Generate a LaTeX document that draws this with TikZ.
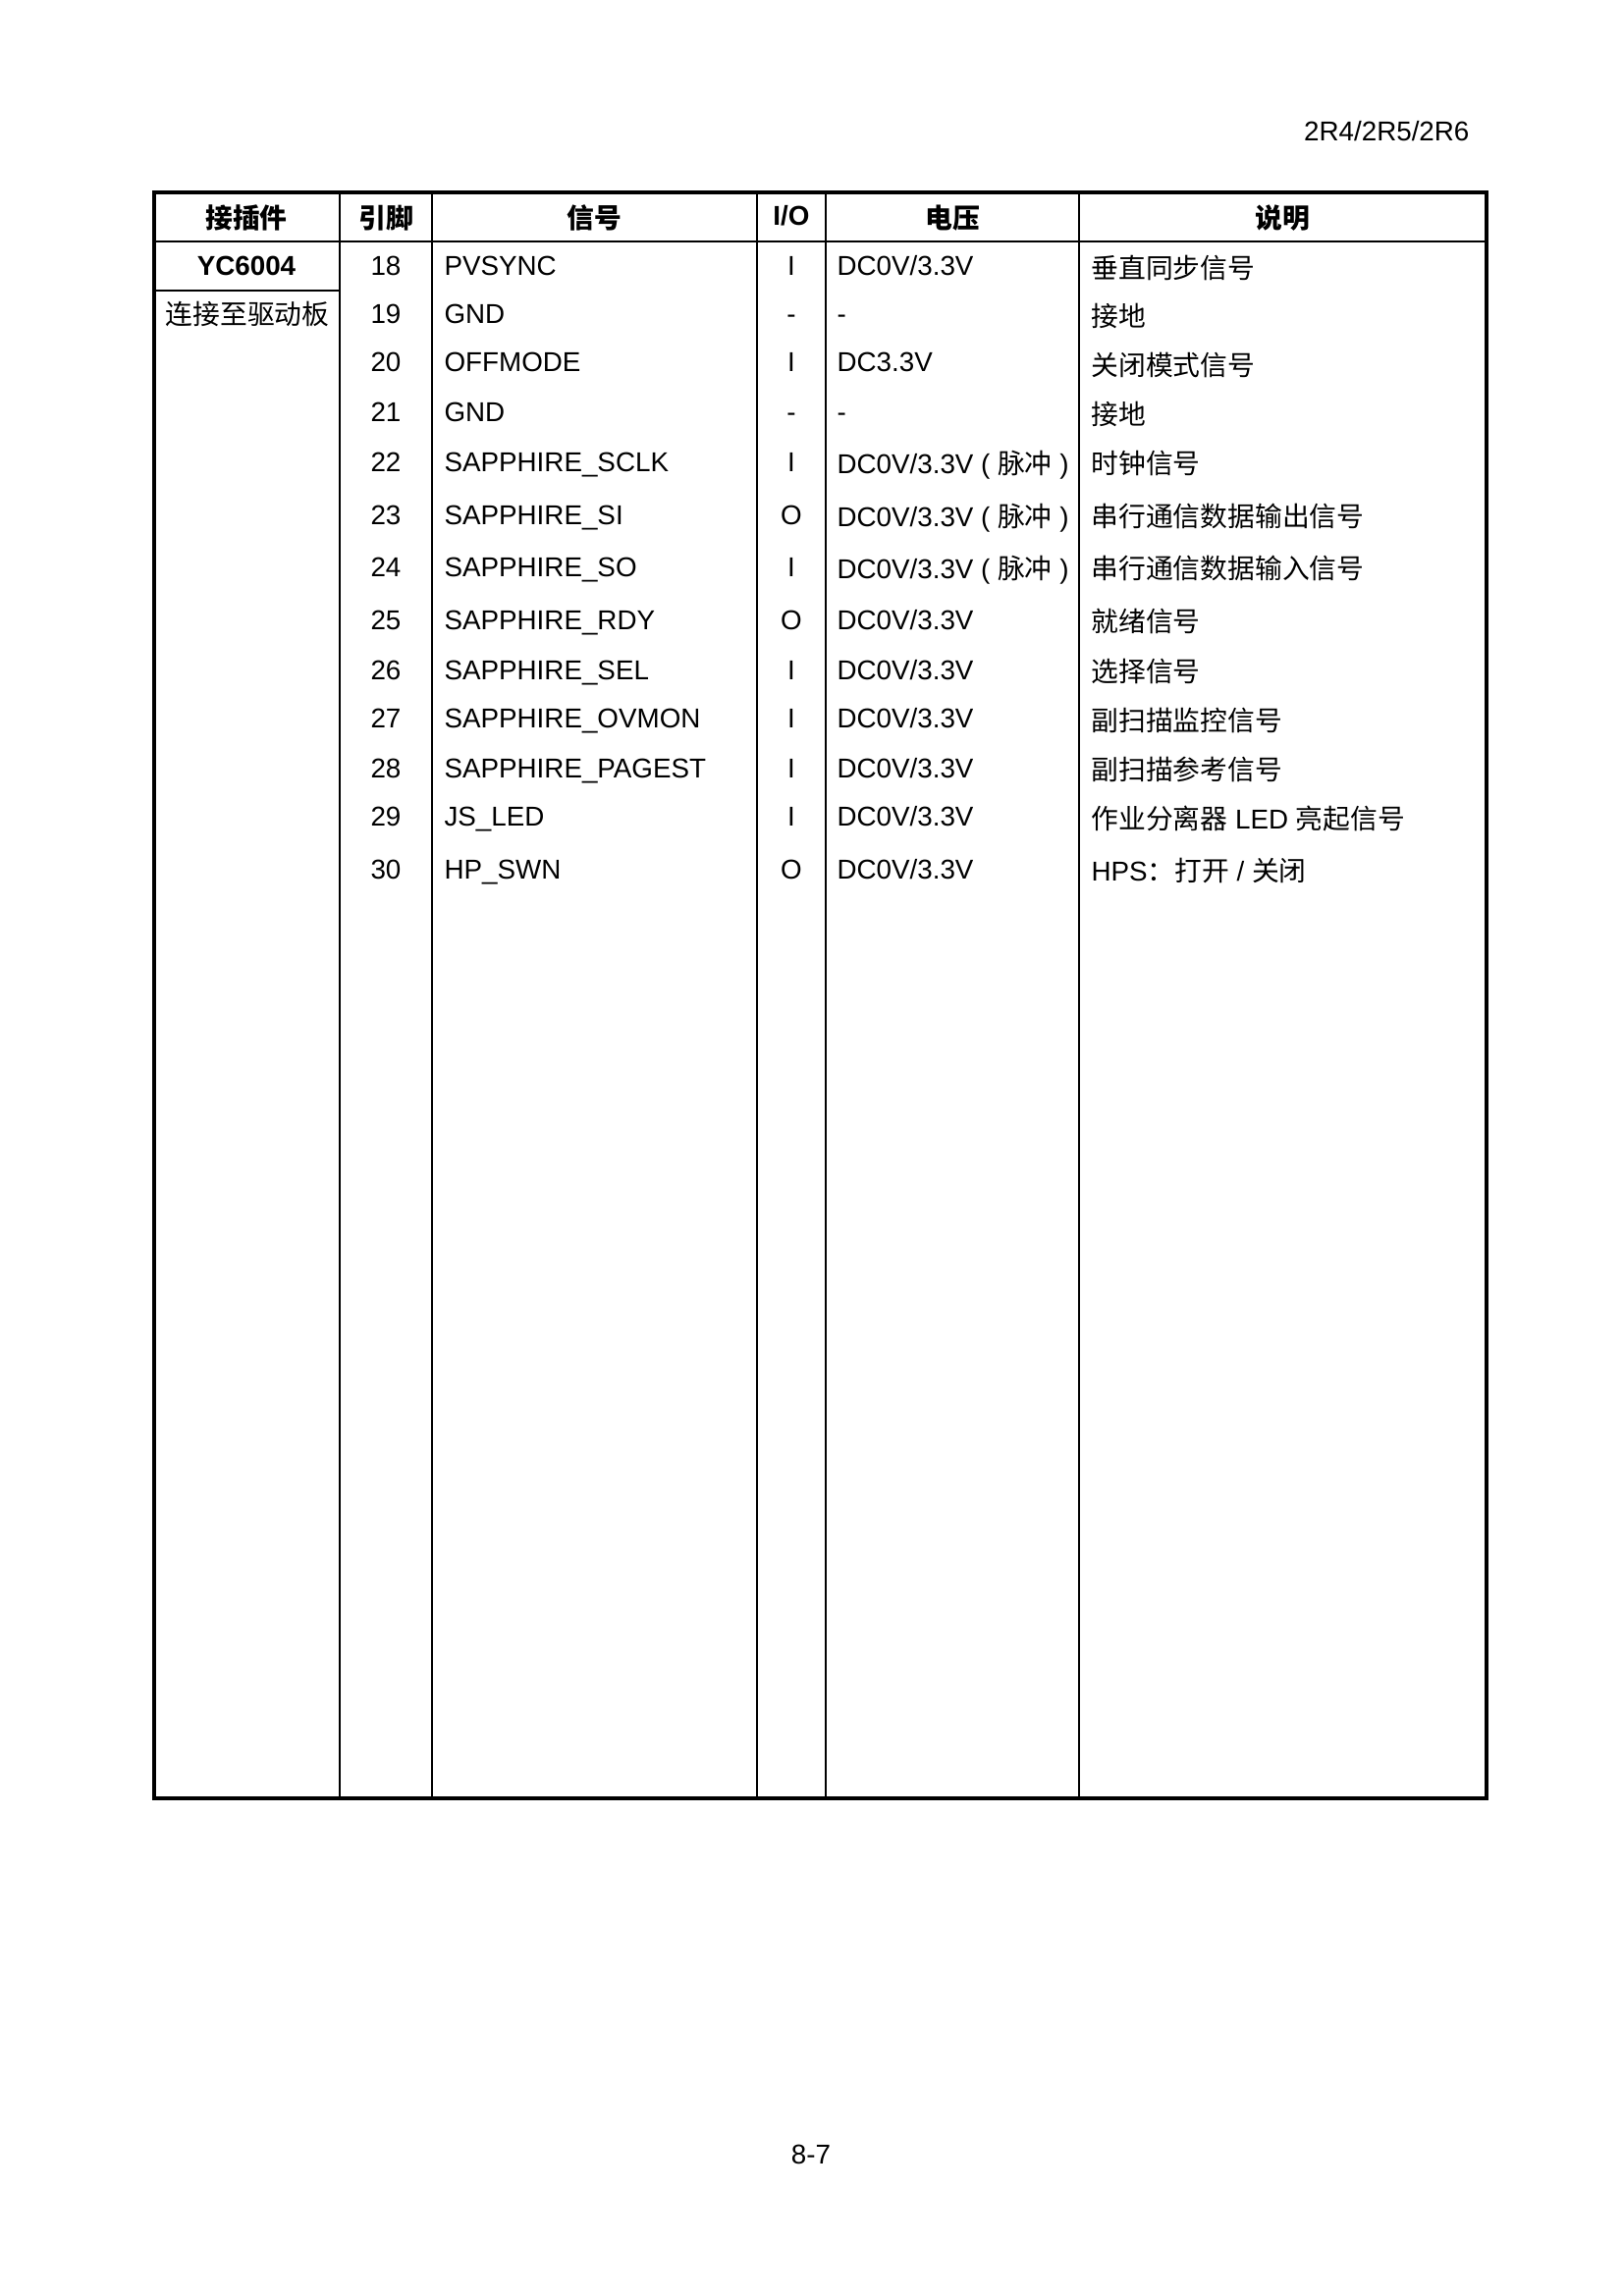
\documentclass[tikz,border=0pt]{standalone}
\usepackage{fontspec}
\setmainfont{Liberation Sans}
\newfontfamily\cjk{Noto Sans CJK SC}
\begin{document}
\begin{tikzpicture}[x=0.36pt,y=-0.36pt,
  txt/.style={font=\fontsize{10}{12}\selectfont, inner sep=0pt, anchor=base west},
  ctr/.style={txt, anchor=base},
  hdr/.style={ctr, font=\fontsize{10}{12}\selectfont\bfseries},
  outer/.style={line width=1.1pt},
  inner/.style={line width=0.6pt}]
\useasboundingbox (0,0) rectangle (1653,2339);
% page header / footer
\node[txt, anchor=base east] (model) at (1497,143) {2R4/2R5/2R6};
\node[ctr] (page) at (826,2204) {8-7};
% table frame
\draw[inner] (157,246) -- (1514,246);
\draw[inner] (157,296) -- (346,296);
\foreach \cx in {346,440,771,841,1099} \draw[inner] (\cx,196) -- (\cx,1832);
\draw[outer] (157,196) rectangle (1514,1832);
% header
\node[hdr] (h1) at (251,232) {\cjk 接插件};
\node[hdr] (h2) at (393,232) {\cjk 引脚};
\node[hdr] (h3) at (605,232) {\cjk 信号};
\node[hdr] (h4) at (806,229) {I/O};
\node[hdr] (h5) at (970,232) {\cjk 电压};
\node[hdr] (h6) at (1306,232) {\cjk 说明};
% connector
\node[hdr] (yc) at (251,280) {YC6004};
\node[ctr] (conn) at (252,330) {\cjk 连接至驱动板};
% pins
\node[ctr] (p18) at (393,280) {18};
\node[ctr] (p19) at (393,329) {19};
\node[ctr] (p20) at (393,378) {20};
\node[ctr] (p21) at (393,429) {21};
\node[ctr] (p22) at (393,480) {22};
\node[ctr] (p23) at (393,534) {23};
\node[ctr] (p24) at (393,587) {24};
\node[ctr] (p25) at (393,641) {25};
\node[ctr] (p26) at (393,692) {26};
\node[ctr] (p27) at (393,741) {27};
\node[ctr] (p28) at (393,792) {28};
\node[ctr] (p29) at (393,841) {29};
\node[ctr] (p30) at (393,895) {30};
% signals
\node[txt] (s18) at (452,280) {PVSYNC};
\node[txt] (s19) at (452,329) {GND};
\node[txt] (s20) at (452,378) {OFFMODE};
\node[txt] (s21) at (452,429) {GND};
\node[txt] (s22) at (452,480) {SAPPHIRE\_SCLK};
\node[txt] (s23) at (452,534) {SAPPHIRE\_SI};
\node[txt] (s24) at (452,587) {SAPPHIRE\_SO};
\node[txt] (s25) at (452,641) {SAPPHIRE\_RDY};
\node[txt] (s26) at (452,692) {SAPPHIRE\_SEL};
\node[txt] (s27) at (452,741) {SAPPHIRE\_OVMON};
\node[txt] (s28) at (452,792) {SAPPHIRE\_PAGEST};
\node[txt] (s29) at (452,841) {JS\_LED};
\node[txt] (s30) at (452,895) {HP\_SWN};
% I/O
\node[ctr] (io18) at (806,280) {I};
\node[ctr] (io19) at (806,329) {-};
\node[ctr] (io20) at (806,378) {I};
\node[ctr] (io21) at (806,429) {-};
\node[ctr] (io22) at (806,480) {I};
\node[ctr] (io23) at (806,534) {O};
\node[ctr] (io24) at (806,587) {I};
\node[ctr] (io25) at (806,641) {O};
\node[ctr] (io26) at (806,692) {I};
\node[ctr] (io27) at (806,741) {I};
\node[ctr] (io28) at (806,792) {I};
\node[ctr] (io29) at (806,841) {I};
\node[ctr] (io30) at (806,895) {O};
% voltage
\node[txt] (v18) at (852,280) {DC0V/3.3V};
\node[txt] (v19) at (852,329) {-};
\node[txt] (v20) at (852,378) {DC3.3V};
\node[txt] (v21) at (852,429) {-};
\node[txt] (v22) at (852,482) {DC0V/3.3V ( {\cjk 脉冲} )};
\node[txt] (v23) at (852,536) {DC0V/3.3V ( {\cjk 脉冲} )};
\node[txt] (v24) at (852,589) {DC0V/3.3V ( {\cjk 脉冲} )};
\node[txt] (v25) at (852,641) {DC0V/3.3V};
\node[txt] (v26) at (852,692) {DC0V/3.3V};
\node[txt] (v27) at (852,741) {DC0V/3.3V};
\node[txt] (v28) at (852,792) {DC0V/3.3V};
\node[txt] (v29) at (852,841) {DC0V/3.3V};
\node[txt] (v30) at (852,895) {DC0V/3.3V};
% description
\node[txt] (d18) at (1111,283) {\cjk 垂直同步信号};
\node[txt] (d19) at (1111,332) {\cjk 接地};
\node[txt] (d20) at (1111,382) {\cjk 关闭模式信号};
\node[txt] (d21) at (1111,432) {\cjk 接地};
\node[txt] (d22) at (1111,482) {\cjk 时钟信号};
\node[txt] (d23) at (1111,536) {\cjk 串行通信数据输出信号};
\node[txt] (d24) at (1111,589) {\cjk 串行通信数据输入信号};
\node[txt] (d25) at (1111,643) {\cjk 就绪信号};
\node[txt] (d26) at (1111,694) {\cjk 选择信号};
\node[txt] (d27) at (1111,744) {\cjk 副扫描监控信号};
\node[txt] (d28) at (1111,794) {\cjk 副扫描参考信号};
\node[txt] (d29) at (1111,844) {{\cjk 作业分离器} LED {\cjk 亮起信号}};
\node[txt] (d30) at (1111,897) {HPS{\cjk ：打开} / {\cjk 关闭}};
\end{tikzpicture}
\end{document}
